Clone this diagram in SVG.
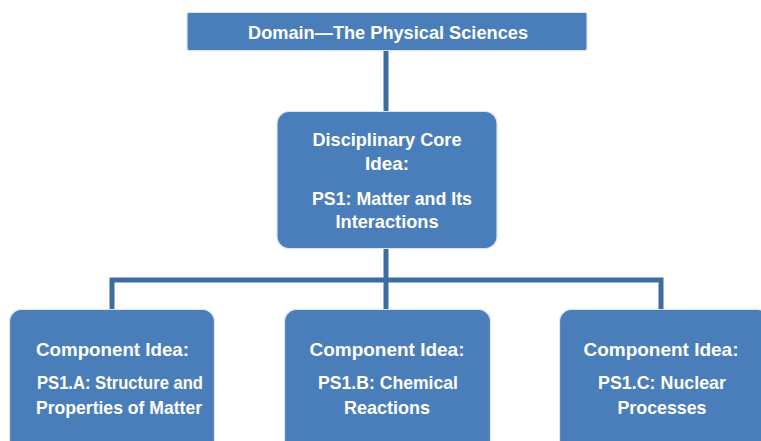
<svg xmlns="http://www.w3.org/2000/svg" width="761" height="441" viewBox="0 0 761 441">
<style>
.box{fill:#4a7ebb;stroke:#dbe5f1;stroke-width:1.2}
.t{font-family:"Liberation Sans",Arial,sans-serif;font-size:19px;fill:#ffffff;text-anchor:middle;font-weight:bold}
.c{fill:none;stroke:#3d6c9f;stroke-width:5}
</style>
<rect width="761" height="441" fill="#ffffff"/>
<g id="connectors">
<line class="c" x1="386" y1="50" x2="386" y2="112"/>
<line class="c" x1="386" y1="248" x2="386" y2="310"/>
<polyline class="c" points="112,310 112,280 661,280 661,310"/>
</g>
<g id="domain">
<rect class="box" x="187" y="12.5" width="400" height="38" rx="2"/>
<text class="t" x="388" y="39" textLength="280" lengthAdjust="spacingAndGlyphs">Domain—The Physical Sciences</text>
</g>
<g id="core">
<rect class="box" x="277" y="111.5" width="220" height="137" rx="12"/>
<text class="t" x="387" y="146" textLength="149" lengthAdjust="spacingAndGlyphs">Disciplinary Core</text>
<text class="t" x="387" y="170" textLength="44" lengthAdjust="spacingAndGlyphs">Idea:</text>
<text class="t" x="392" y="205" textLength="160" lengthAdjust="spacingAndGlyphs">PS1: Matter and Its</text>
<text class="t" x="387" y="228" textLength="103" lengthAdjust="spacingAndGlyphs">Interactions</text>
</g>
<g id="psa">
<rect class="box" x="9.5" y="309.5" width="205" height="145" rx="12"/>
<text class="t" x="112.5" y="356" textLength="153" lengthAdjust="spacingAndGlyphs">Component Idea:</text>
<text class="t" x="120" y="389" textLength="166" lengthAdjust="spacingAndGlyphs">PS1.A: Structure and</text>
<text class="t" x="119" y="414" textLength="166" lengthAdjust="spacingAndGlyphs">Properties of Matter</text>
</g>
<g id="psb">
<rect class="box" x="284.5" y="309.5" width="206" height="145" rx="12"/>
<text class="t" x="387" y="356" textLength="155" lengthAdjust="spacingAndGlyphs">Component Idea:</text>
<text class="t" x="388" y="389" textLength="140" lengthAdjust="spacingAndGlyphs">PS1.B: Chemical</text>
<text class="t" x="387" y="414" textLength="86" lengthAdjust="spacingAndGlyphs">Reactions</text>
</g>
<g id="psc">
<rect class="box" x="559.5" y="309.5" width="210" height="145" rx="12"/>
<text class="t" x="661" y="356" textLength="155" lengthAdjust="spacingAndGlyphs">Component Idea:</text>
<text class="t" x="662" y="389" textLength="128" lengthAdjust="spacingAndGlyphs">PS1.C: Nuclear</text>
<text class="t" x="662" y="414" textLength="89" lengthAdjust="spacingAndGlyphs">Processes</text>
</g>
</svg>
